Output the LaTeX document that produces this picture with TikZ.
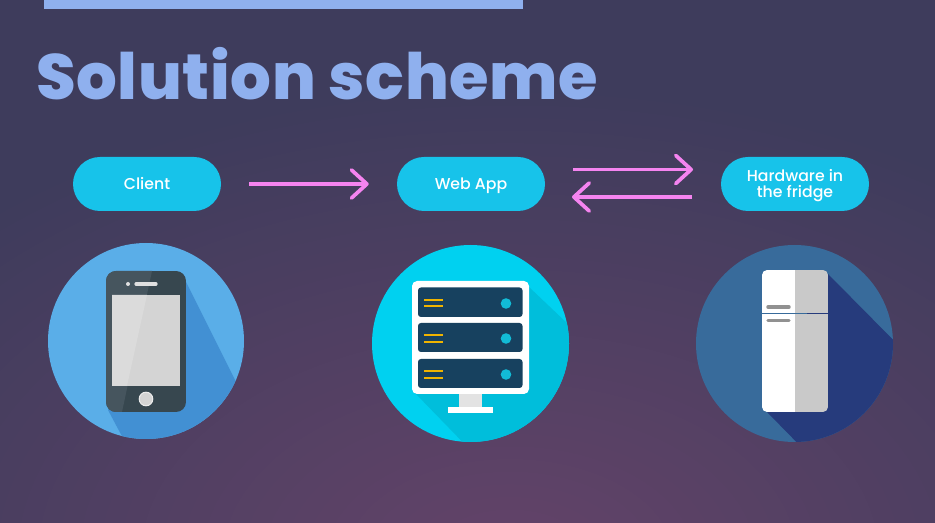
\documentclass[tikz,border=0pt]{standalone}
\usepackage{fontspec}
\setmainfont{Poppins Medium}
\newfontfamily\titlefont[LetterSpace=1]{Poppins ExtraBold}
\usetikzlibrary{arrows.meta}
\definecolor{bgin}{HTML}{644369}
\definecolor{bgout}{HTML}{3E3C5C}
\definecolor{titleblue}{HTML}{8FB0EE}
\definecolor{pill}{HTML}{17C3EA}
\definecolor{arrowpink}{HTML}{F584F0}
\definecolor{phonecirc}{HTML}{5AAEE8}
\definecolor{phoneshadow}{HTML}{4290D3}
\definecolor{phonebody}{HTML}{37474F}
\definecolor{phonelight}{HTML}{46555E}
\definecolor{servcirc}{HTML}{00D1F0}
\definecolor{servshadow}{HTML}{00BEDB}
\definecolor{panel}{HTML}{17415F}
\definecolor{ledyellow}{HTML}{F0B400}
\definecolor{leddot}{HTML}{12BBD6}
\definecolor{fridgecirc}{HTML}{386B9B}
\definecolor{fridgeshadow}{HTML}{263B7C}
\tikzset{
  pillbox/.style={fill=pill,rounded corners=20.25pt,minimum width=111pt,minimum height=40.5pt,inner sep=0pt,text=white,align=center,font=\fontsize{11.8pt}{13pt}\selectfont},
  oneline/.style={text height=10.8pt,text depth=2.4pt},
  flow/.style={draw=arrowpink,line width=2.8pt,-{Straight Barb[length=11.5pt,width=21pt,round,line width=2.8pt]}},
  yline/.style={draw=ledyellow,line width=1.5pt},
  handle/.style={draw=black!43,line width=2.6pt,line cap=round}
}
\begin{document}
\begin{tikzpicture}[x=0.75pt,y=-0.75pt]
\useasboundingbox (0,0) rectangle (935,523);
\begin{scope}
\clip (0,0) rectangle (935,523);
\fill[bgout] (0,0) rectangle (935,523);
\foreach \i in {38,37,...,1}{
  \pgfmathtruncatemacro{\pc}{100*(38-\i)/38}
  \pgfmathsetmacro{\rx}{780/38*\i}
  \pgfmathsetmacro{\ry}{480/38*\i}
  \fill[bgin!\pc!bgout] (510,560) ellipse [x radius=\rx,y radius=\ry];
}
\end{scope}
% top bar and title
\fill[titleblue] (44,0) rectangle (523,9);
\node[anchor=base west,inner sep=0pt,text=titleblue,font=\fontsize{48pt}{52pt}\selectfont\titlefont] (title) at (36,100) {Solution scheme};
% pills
\node[pillbox,oneline] (client) at (147,184) {Client};
\node[pillbox,oneline] (webapp) at (471,184) {Web App};
\node[pillbox] (hardware) at (795,184) {};
\node[text=white,align=center,inner sep=0pt,font=\fontsize{11.8pt}{12.3pt}\selectfont] (hwlabel) at (795,185.8) {Hardware in\\the fridge};
% arrows
\coordinate (t1) at (573,169.5);
\coordinate (t2) at (693,169.5);
\coordinate (b1) at (692,197);
\coordinate (b2) at (572,197);
\draw[flow,shorten <=21pt,shorten >=21pt] (client.east) -- (webapp.west);
\draw[flow] (t1) -- (t2);
\draw[flow] (b1) -- (b2);
% phone icon
\fill[phonecirc] (146,341) circle (98);
\begin{scope}
\clip (146,341) circle (98);
\fill[phoneshadow] (186,282) -- (245,400) -- (240,470) -- (133,457) -- (108,410) -- cycle;
\end{scope}
\begin{scope}
\clip[rounded corners=7.5pt] (106,271) rectangle (186,412);
\fill[phonebody] (106,271) rectangle (186,412);
\fill[phonelight] (106,271) -- (152,271) -- (122,412) -- (106,412) -- cycle;
\end{scope}
\fill[black!17] (112,295) rectangle (180,386);
\fill[black!14] (112,295) -- (147,295) -- (127,386) -- (112,386) -- cycle;
\fill[black!12] (128,284) circle (2);
\draw[black!12,line width=2.4pt,line cap=round] (136,284) -- (156,284);
\fill[black!17,draw=white!92!black,line width=0.8pt] (146,399) circle (6.8);
% server icon
\fill[servcirc] (470.5,343.5) circle (98.5);
\begin{scope}
\clip (470.5,343.5) circle (98.5);
\fill[servshadow] (529,287) -- (590,345) -- (590,470) -- (482,462) -- (415,393) -- cycle;
\end{scope}
\fill[white!89!black] (459,392) rectangle (482,407);
\fill[white] (448,407) rectangle (493,413);
\fill[white,rounded corners=3.8pt] (412,281) rectangle (529,394);
\fill[panel,rounded corners=2.2pt] (418,287.5) rectangle (522.5,317);
\fill[panel,rounded corners=2.2pt] (418,323) rectangle (522.5,352);
\fill[panel,rounded corners=2.2pt] (418,359) rectangle (522.5,388);
\draw[yline] (424,300) -- (443,300);
\draw[yline] (424,306.5) -- (443,306.5);
\draw[yline] (424,335.5) -- (443,335.5);
\draw[yline] (424,342) -- (443,342);
\draw[yline] (424,371.5) -- (443,371.5);
\draw[yline] (424,378) -- (443,378);
\fill[leddot] (506,303.5) circle (5.3);
\fill[leddot] (506,338.5) circle (5.3);
\fill[leddot] (506,374.5) circle (5.3);
% fridge icon
\fill[fridgecirc] (794.5,343.5) circle (98.5);
\begin{scope}
\clip (794.5,343.5) circle (98.5);
\fill[fridgeshadow] (828,274) -- (915,362) -- (915,462) -- (816,462) -- (767,412) -- cycle;
\end{scope}
\begin{scope}
\clip[rounded corners=3.8pt] (762,270) rectangle (828,412);
\fill[white] (762,270) rectangle (795,412);
\fill[black!21] (795,270) rectangle (828,412);
\end{scope}
\draw[fridgecirc,line width=0.9pt] (762,313.5) -- (807,313.5);
\draw[fridgeshadow,line width=0.9pt] (807,313.5) -- (828,313.5);
\draw[handle] (768,307) -- (789,307);
\draw[handle] (768,320.5) -- (789,320.5);
\end{tikzpicture}
\end{document}
